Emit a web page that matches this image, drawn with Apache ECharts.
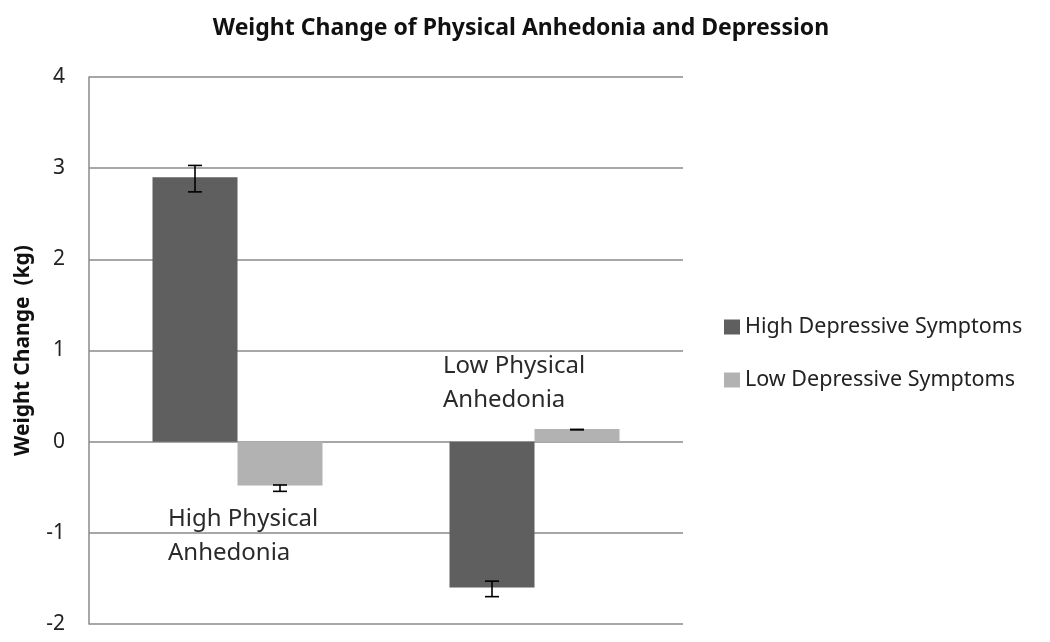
<!DOCTYPE html>
<html>
<head>
<meta charset="utf-8">
<script src="https://cdn.jsdelivr.net/npm/echarts@6/dist/echarts.min.js"></script>
<style>html,body{margin:0;padding:0;background:#fff;}#c{width:1050px;height:642px;}</style>
</head>
<body>
<div id="c"></div>
<script>
var categories = ['High Physical Anhedonia', 'Low Physical Anhedonia'];
var seriesNames = ['High Depressive Symptoms', 'Low Depressive Symptoms'];
var highDep = [2.90, -1.60];
var lowDep = [-0.48, 0.14];
var highDepErrLow = [2.74, -1.70];
var highDepErrHigh = [3.03, -1.53];
var lowDepErrLow = [-0.545, 0.13];
var lowDepErrHigh = [-0.475, 0.135];
var yTicks = [-2, -1, 0, 1, 2, 3, 4];

var FONT = '"Noto Sans", sans-serif';
var chart = echarts.init(document.getElementById('c'));

function errSeries(seriesIndex, lows, highs) {
  var data = categories.map(function (c, i) { return [i, lows[i], highs[i]]; });
  return {
    type: 'custom',
    name: 'err' + seriesIndex,
    z: 10,
    silent: true,
    data: data,
    encode: { x: 0, y: [1, 2] },
    renderItem: function (params, api) {
      var idx = api.value(0);
      var lo = api.coord([idx, api.value(1)]);
      var hi = api.coord([idx, api.value(2)]);
      var barW = 85;
      var cx = lo[0] + (seriesIndex === 0 ? -barW / 2 : barW / 2);
      var cap = 7;
      var st = { stroke: '#000', lineWidth: 1.6 };
      return {
        type: 'group',
        children: [
          { type: 'line', shape: { x1: cx, y1: lo[1], x2: cx, y2: hi[1] }, style: st },
          { type: 'line', shape: { x1: cx - cap, y1: lo[1], x2: cx + cap, y2: lo[1] }, style: st },
          { type: 'line', shape: { x1: cx - cap, y1: hi[1], x2: cx + cap, y2: hi[1] }, style: st }
        ]
      };
    }
  };
}

chart.setOption({
  animation: false,
  backgroundColor: '#fff',
  title: {
    text: 'Weight Change of Physical Anhedonia and Depression',
    left: 516, top: 12, textAlign: 'center',
    textStyle: { fontFamily: FONT, fontSize: 23, fontWeight: 'bold', color: '#111' }
  },
  legend: {
    orient: 'vertical', left: 724, top: 316, padding: 0,
    itemWidth: 16, itemHeight: 15, itemGap: 31,
    icon: 'rect',
    data: seriesNames,
    textStyle: { fontFamily: FONT, fontSize: 21.5, color: '#222' }
  },
  grid: { left: 89, right: 367, top: 77, bottom: 18 },
  xAxis: {
    type: 'category', data: categories,
    axisLine: { show: false }, axisTick: { show: false }, axisLabel: { show: false },
    splitLine: { show: false }
  },
  yAxis: {
    type: 'value', min: yTicks[0], max: yTicks[yTicks.length - 1], interval: 1,
    name: 'Weight Change  (kg)', nameLocation: 'middle', nameGap: 55,
    nameTextStyle: { fontFamily: FONT, fontSize: 21, fontWeight: 'bold', color: '#111' },
    axisLine: { show: true, lineStyle: { color: '#8a8a8a', width: 1.5 } },
    axisTick: { show: false },
    axisLabel: { fontFamily: FONT, fontSize: 21, color: '#222', margin: 24 },
    splitLine: { lineStyle: { color: '#8a8a8a', width: 1.5 } }
  },
  series: [
    { type: 'bar', name: seriesNames[0], data: highDep, barWidth: 85, barGap: '0%',
      itemStyle: { color: '#5f5f5f' } },
    { type: 'bar', name: seriesNames[1], data: lowDep, barWidth: 85, barGap: '0%',
      itemStyle: { color: '#b2b2b2' } },
    errSeries(0, highDepErrLow, highDepErrHigh),
    errSeries(1, lowDepErrLow, lowDepErrHigh)
  ],
  graphic: [
    { type: 'text', left: 168, top: 502, z: 20,
      style: { text: 'High Physical\nAnhedonia', font: '24px ' + FONT, fill: '#2a2a2a', lineHeight: 34 } },
    { type: 'text', left: 443, top: 349, z: 20,
      style: { text: 'Low Physical\nAnhedonia', font: '24px ' + FONT, fill: '#2a2a2a', lineHeight: 34 } }
  ]
});
</script>
</body>
</html>
